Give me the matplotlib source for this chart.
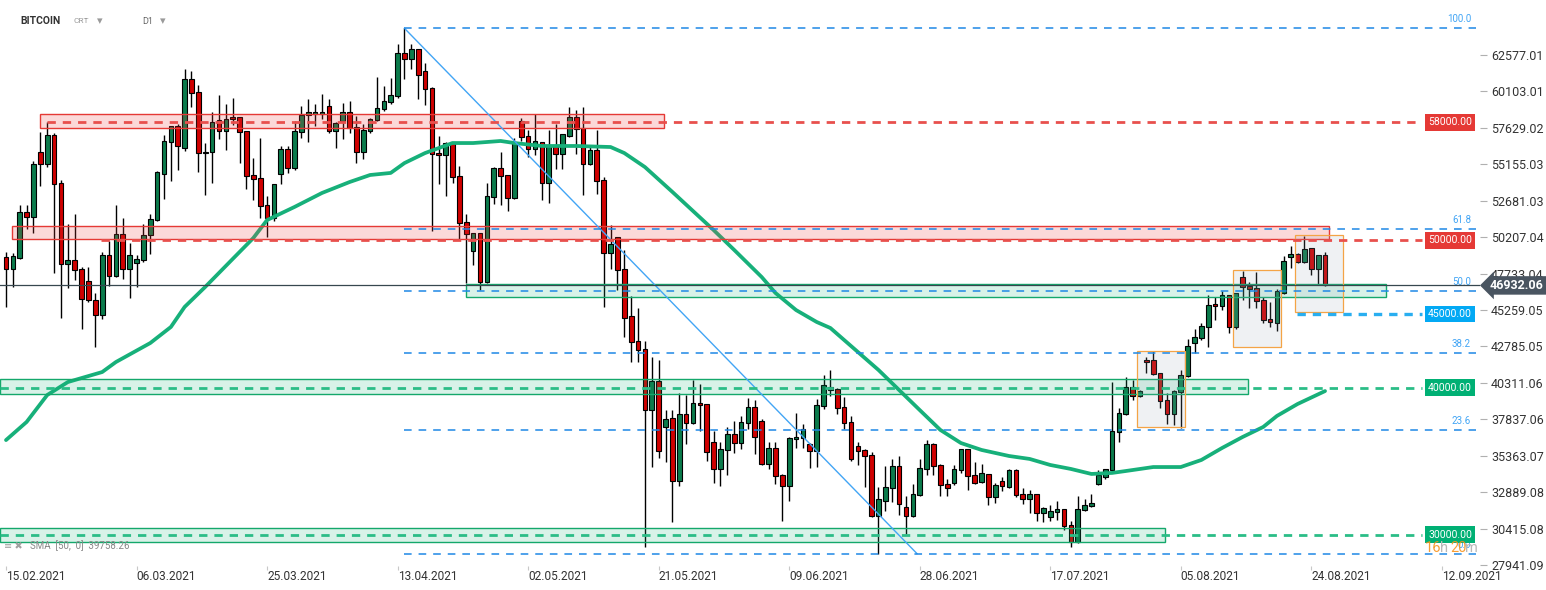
import numpy as np
import matplotlib
matplotlib.use('Agg')
import matplotlib.pyplot as plt
from matplotlib.patches import Rectangle

plt.rcParams['font.family'] = ['Roboto', 'DejaVu Sans']
plt.rcParams['lines.scale_dashes'] = False

# daily candles, 15.02.2021 .. 26.08.2021
opens = [48840, 48030, 48820, 51900, 51560, 55970, 55160, 57120, 53870, 48360,
         48640, 48020, 47210, 45920, 44900, 48980, 47550, 50400, 48020, 48430,
         48640, 50330, 51350, 54520, 56650, 57730, 56240, 60930, 60040, 55900,
         55970, 58170, 57400, 58350, 58350, 57400, 54410, 54200, 52370, 51490,
         54480, 56170, 54880, 57330, 58480, 58550, 58550, 59090, 57400, 58070,
         58690, 57670, 55970, 57400, 58140, 58890, 59360, 59770, 62690, 62280,
         62960, 61470, 60310, 55900, 55770, 56650, 54340, 51220, 49250, 50470,
         47140, 52910, 54880, 54410, 52850, 58070, 57060, 56170, 56650, 53870,
         56450, 55830, 57060, 58350, 57600, 55160, 56110, 54070, 49110, 50200,
         48030, 44830, 43140, 42590, 38450, 40420, 37300, 37910, 33630, 38180,
         37570, 38930, 38860, 36280, 34450, 35740, 36820, 36210, 37570, 38660,
         37700, 34790, 35870, 34040, 33290, 36480, 36550, 36140, 35670, 38720,
         40010, 39880, 38650, 37640, 36010, 35730, 35400, 31300, 32270, 33150,
         34650, 31870, 31250, 32680, 34440, 36140, 34720, 33430, 33490, 34380,
         35800, 34040, 33560, 34110, 32540, 33630, 33220, 34380, 32750, 32410,
         32750, 31460, 31190, 31530, 31730, 30640, 29490, 31660, 31930, 33430,
         33900, 34380, 36960, 38180, 40010, 39400, 41850, 41850, 40960, 39130,
         38180, 39670, 40760, 43000, 43340, 44090, 45650, 45510, 46260, 44090,
         47480, 46870, 46730, 45920, 44630, 44360, 46400, 48840, 49040, 48500,
         49450, 48020, 48980]
highs = [49200, 49150, 52400, 52390, 55380, 57330, 58050, 57300, 54090, 51100,
         51780, 48200, 48160, 46400, 49180, 49930, 52370, 51490, 49790, 48980,
         51080, 51780, 54700, 57120, 57750, 57890, 61600, 61470, 60520, 56580,
         58690, 59840, 59230, 59640, 58400, 57450, 55560, 56920, 52980, 53850,
         56380, 56380, 58070, 59090, 59570, 59230, 59910, 59570, 58000, 59300,
         59430, 58410, 57900, 58300, 61060, 60450, 60990, 63300, 64390, 63300,
         63000, 62010, 60400, 57060, 56700, 56700, 55060, 51760, 50470, 50500,
         53870, 55000, 55970, 54450, 56920, 58280, 57460, 58550, 56700, 57460,
         57870, 57200, 59030, 58820, 59030, 56310, 57460, 54270, 51040, 50250,
         49360, 46210, 45380, 43140, 42050, 41850, 38450, 38450, 39610, 39520,
         40490, 40220, 38900, 37030, 36280, 37300, 37700, 38040, 39270, 39130,
         37840, 36280, 36280, 34100, 36620, 38250, 37500, 36200, 39200, 40830,
         41170, 39950, 39330, 38040, 36280, 35800, 35600, 33220, 34650, 35120,
         35330, 32610, 33430, 35120, 36410, 36200, 34780, 33770, 34720, 35800,
         35850, 34920, 34780, 34150, 33490, 33900, 34450, 34450, 33160, 33020,
         32800, 31870, 32000, 32270, 31780, 30920, 32610, 32410, 32750, 34380,
         34450, 40350, 38590, 40690, 40490, 39800, 42050, 42460, 41000, 39610,
         39800, 41170, 43270, 43950, 44360, 46260, 46120, 46530, 46300, 46400,
         47890, 47140, 47820, 46120, 45780, 46670, 48910, 49590, 49100, 50270,
         49500, 48980, 49180]
lows = [45500, 46800, 48750, 50740, 50520, 53710, 55000, 47750, 44720, 46780,
        47280, 43950, 45800, 42770, 44630, 46870, 47500, 47350, 46100, 46850,
        48500, 49040, 51300, 52820, 54050, 54790, 56080, 59070, 54660, 53100,
        53910, 56850, 56150, 57800, 55270, 53500, 52760, 51530, 50240, 51300,
        53800, 54540, 54800, 56920, 56650, 57730, 58210, 57300, 56240, 56850,
        57260, 55270, 55490, 57300, 58100, 58800, 59230, 59640, 60930, 61600,
        59570, 59160, 50630, 53800, 52980, 53870, 50060, 47070, 48300, 46600,
        47080, 52440, 52390, 51960, 52800, 56720, 55630, 55770, 52760, 52510,
        54820, 54820, 57000, 55830, 53050, 55100, 53120, 45450, 48030, 46600,
        43460, 41760, 41760, 29200, 34630, 35240, 34920, 30850, 33290, 36140,
        37500, 37030, 34990, 33500, 33290, 34040, 35530, 35800, 37160, 35460,
        34720, 34450, 33430, 30920, 32270, 35870, 35870, 34510, 34630, 38560,
        39420, 38180, 37160, 34990, 34720, 33220, 31190, 28720, 31590, 32200,
        31320, 30030, 31200, 32600, 34040, 34040, 32610, 32610, 33400, 34200,
        33020, 33430, 33500, 32000, 32140, 32950, 33200, 32550, 32070, 31460,
        30910, 30850, 30920, 30980, 30310, 29150, 29420, 31600, 31900, 33360,
        33770, 34310, 36280, 38100, 39130, 39350, 40960, 40850, 38590, 37500,
        37430, 37230, 40700, 42320, 43200, 42730, 44560, 45240, 43680, 44000,
        45920, 45380, 45380, 44360, 44090, 43820, 46350, 48090, 48450, 48450,
        47620, 46940, 46870]
closes = [48030, 48930, 51900, 51560, 55160, 55160, 57120, 53800, 48380, 48640,
          47960, 45990, 45920, 44900, 48980, 47550, 50400, 48020, 48980, 48700,
          50330, 51420, 54610, 56720, 57730, 56420, 60930, 59980, 55900, 56000,
          58050, 57400, 58210, 58210, 57330, 54340, 54140, 52300, 51490, 53800,
          56170, 54880, 57400, 58480, 58690, 58690, 58690, 57400, 57940, 58690,
          57600, 55970, 57460, 58210, 58960, 59430, 59840, 62690, 62280, 62960,
          61200, 60250, 55830, 55770, 56580, 54270, 51150, 50400, 50470, 47140,
          52980, 54880, 54340, 52850, 56650, 56990, 56170, 56720, 53870, 56450,
          55830, 57190, 58350, 57530, 55160, 56110, 54000, 49110, 49720, 47960,
          44750, 43070, 42530, 38450, 40420, 35670, 37840, 33630, 38180, 37570,
          38930, 38790, 35600, 34450, 35800, 36820, 36210, 37640, 38660, 36620,
          34790, 35870, 33970, 33290, 36550, 36620, 37160, 35670, 38790, 40150,
          39810, 38590, 37570, 35120, 35670, 35330, 31300, 32410, 33220, 34650,
          32070, 31250, 32750, 34510, 36140, 34650, 33360, 33150, 34450, 35800,
          33970, 33490, 34170, 32540, 33360, 33290, 34380, 32680, 32410, 32750,
          31460, 31800, 31590, 31730, 30580, 29490, 31730, 32000, 32140, 34040,
          34450, 37030, 38250, 40010, 39400, 39740, 41710, 40900, 39060, 38180,
          39740, 40830, 42800, 43410, 44160, 45580, 45510, 46260, 44090, 46400,
          46800, 46670, 45850, 44560, 44430, 46530, 48570, 49040, 48500, 49380,
          48020, 48980, 46932.06]

# SMA(50) (candle index, value)
sma_idx = [0, 3, 6, 9, 14, 16, 21, 24, 26, 29, 33, 36, 38, 42, 46, 50, 53, 56, 58, 61,
           65, 68, 72, 74, 78, 83, 88, 90, 93, 97, 103, 106, 110, 112, 115, 118, 120,
           127, 130, 133, 136, 139, 142, 146, 149, 152, 155, 158, 161, 163, 167, 171,
           174, 177, 180, 183, 185, 188, 192]
sma_val = [36430, 37660, 39490, 40370, 41050, 41730, 43020, 44110, 45470, 46830, 48730,
           50150, 51370, 52260, 53210, 53950, 54430, 54570, 55240, 55920, 56600, 56600,
           56740, 56600, 56400, 56400, 56330, 55920, 54970, 53280, 50690, 49340, 47500,
           46420, 45260, 44450, 44040, 41190, 39830, 38470, 37120, 36230, 35760, 35350,
           35150, 34740, 34470, 34130, 34200, 34330, 34600, 34600, 35080, 35890, 36640,
           37320, 38070, 38880, 39758.26]

date_labels = ['15.02.2021', '06.03.2021', '25.03.2021', '13.04.2021', '02.05.2021',
               '21.05.2021', '09.06.2021', '28.06.2021', '17.07.2021', '05.08.2021',
               '24.08.2021', '12.09.2021']
ytick_vals = [62577.01, 60103.01, 57629.02, 55155.03, 52681.03, 50207.04, 47733.04,
              45259.05, 42785.05, 40311.06, 37837.06, 35363.07, 32889.08, 30415.08,
              27941.09]
levels = [58000, 50000, 45000, 40000, 30000]
fib_ratios = [1.0, 0.618, 0.5, 0.382, 0.236, 0.0]
sma_last = 39758.26

W, H = 1546, 590
GREEN = '#0b7b4c'
RED = '#d00000'


def px(xp):
    # pixel column -> candle index
    return (xp - 6) / 6.87


fig = plt.figure(figsize=(W / 100, H / 100), dpi=100)
fig.patch.set_facecolor('white')
ax = fig.add_axes([0, 24 / H, 1480 / W, 566 / H])
ax.set_xlim(px(0), px(1480))
ax.set_ylim(27880, 66312)
for s in ax.spines.values():
    s.set_visible(False)

o = np.array(opens, float)
h = np.array(highs, float)
l = np.array(lows, float)
c = np.array(closes, float)
x = np.arange(len(o))
up = c >= o
body_lo = np.minimum(o, c)
body_h = np.maximum(np.abs(c - o), 90)

ax.vlines(x, l, h, color='black', lw=1, zorder=3)
ax.bar(x, body_h, bottom=body_lo, width=0.68, color=np.where(up, GREEN, RED),
       edgecolor='black', linewidth=0.8, zorder=4)

# SMA
ax.plot(sma_idx, sma_val, color='#17b07a', lw=2.7, zorder=4.5, solid_capstyle='round')

# zones
red_fill = (0.93, 0.27, 0.27, 0.2)
green_fill = (0.10, 0.70, 0.47, 0.17)
zones = [(px(40), px(664), 57600, 58550, red_fill, '#e53935'),
         (px(12), px(1329), 50050, 50950, red_fill, '#e53935'),
         (px(466), px(1386), 46150, 47010, green_fill, '#14a86b'),
         (px(0), px(1248), 39540, 40560, green_fill, '#14a86b'),
         (px(0), px(1165), 29490, 30480, green_fill, '#14a86b')]
for x0, x1, p0, p1, fc, ec in zones:
    ax.add_patch(Rectangle((x0, p0), x1 - x0, p1 - p0, facecolor=fc, edgecolor=ec,
                           lw=1.0, zorder=5))

# grey boxes
box_fc = (0.60, 0.64, 0.69, 0.15)
for x0, x1, p0, p1 in [(px(1137), px(1185), 37320, 42480),
                       (px(1233), px(1281), 42750, 47980),
                       (px(1295), px(1343), 45130, 50360)]:
    ax.add_patch(Rectangle((x0, p0), x1 - x0, p1 - p0, facecolor=box_fc,
                           edgecolor='#f4a446', lw=0.9, zorder=6))

# fibonacci
fib_hi, fib_lo = h.max(), l.min()
i_hi = int(np.argmax(h))
ax.plot([i_hi, px(917)], [fib_hi, fib_lo], color='#42a5f5', lw=1, zorder=6)
for r in fib_ratios:
    lv = fib_lo + r * (fib_hi - fib_lo)
    ax.hlines(lv, i_hi, px(1476), colors='#1e88e5', lw=1.1, linestyles=(0, (5.5, 5)), zorder=6)
    ax.text(px(1471), lv + 280, f'{r * 100:.1f}', ha='right', va='bottom', fontsize=7,
            color='#42a5f5', zorder=7)

# horizontal levels
level_style = {58000: ('#e8504d', px(47), 2.0, '#e53935'),
               50000: ('#e8504d', px(101), 2.0, '#e53935'),
               45000: ('#29aef0', px(1297), 2.4, '#03a9f4'),
               40000: ('#2bbd87', px(0), 2.0, '#00b074'),
               30000: ('#2bbd87', px(0), 2.0, '#00b074')}
for lv in levels:
    lc, xs, lw, bc = level_style[lv]
    ax.hlines(lv, xs, px(1422), colors=lc, lw=lw, linestyles=(0, (6, 5)), zorder=6)
    ax.text(1450 / 1480, lv, f'{lv:.2f}', transform=ax.get_yaxis_transform(),
            ha='center', va='center', color='white', fontsize=7.5,
            bbox=dict(boxstyle='square,pad=0.32', fc=bc, ec='none'), zorder=12)

# last price
last = c[-1]
ax.axhline(last, color='#37474f', lw=0.9, zorder=7)
ax.text(1490 / 1480, last, f'{last:.2f}', transform=ax.get_yaxis_transform(), ha='left',
        va='center', color='white', fontsize=9, weight='bold', clip_on=False,
        bbox=dict(boxstyle='larrow,pad=0.22', fc='#4a5561', ec='none'), zorder=12)

# axes ticks
ax.yaxis.tick_right()
ax.set_yticks(ytick_vals)
ax.set_yticklabels([f'{v:.2f}' for v in ytick_vals])
ax.tick_params(axis='y', length=5, width=0.8, color='#b0b0b0', labelsize=9,
               labelcolor='#333333', pad=3)
ax.set_xticks(np.arange(len(date_labels)) * 19)
ax.set_xticklabels(date_labels)
ax.tick_params(axis='x', length=3, width=0.8, color='#c8c8c8', labelsize=8.6,
               labelcolor='#333333', pad=0)
for lbl in ax.get_xticklabels():
    lbl.set_horizontalalignment('left')

# header and small texts
fig.text(20 / W, 1 - 21 / H, 'BITCOIN', fontsize=7.5, weight='bold', color='#333333', va='center')
fig.text(74 / W, 1 - 21 / H, 'CRT', fontsize=6, color='#9a9a9a', va='center')
fig.text(97 / W, 1 - 21 / H, '▾', fontsize=8, color='#9a9a9a', va='center')
fig.text(142 / W, 1 - 21 / H, 'D1', fontsize=6.5, color='#666666', va='center')
fig.text(160 / W, 1 - 21 / H, '▾', fontsize=8, color='#9a9a9a', va='center')
fig.text(4 / W, 1 - 546 / H, '≡ ✖', fontsize=7, color='#a0a0a0', va='center')
fig.text(30 / W, 1 - 546 / H, f'SMA  [50,  0]  {sma_last:.2f}', fontsize=7,
         color='#888888', va='center')
fig.text(1425 / W, 1 - 548 / H, '16', fontsize=10.5, color='#f7931e', va='center', alpha=0.9)
fig.text(1440 / W, 1 - 548 / H, 'h', fontsize=10.5, color='#b8b8b8', va='center')
fig.text(1450 / W, 1 - 548 / H, '20', fontsize=10.5, color='#f7931e', va='center', alpha=0.9)
fig.text(1465 / W, 1 - 548 / H, 'm', fontsize=10.5, color='#b8b8b8', va='center')

fig.savefig('out.png', dpi=100, facecolor='white')
